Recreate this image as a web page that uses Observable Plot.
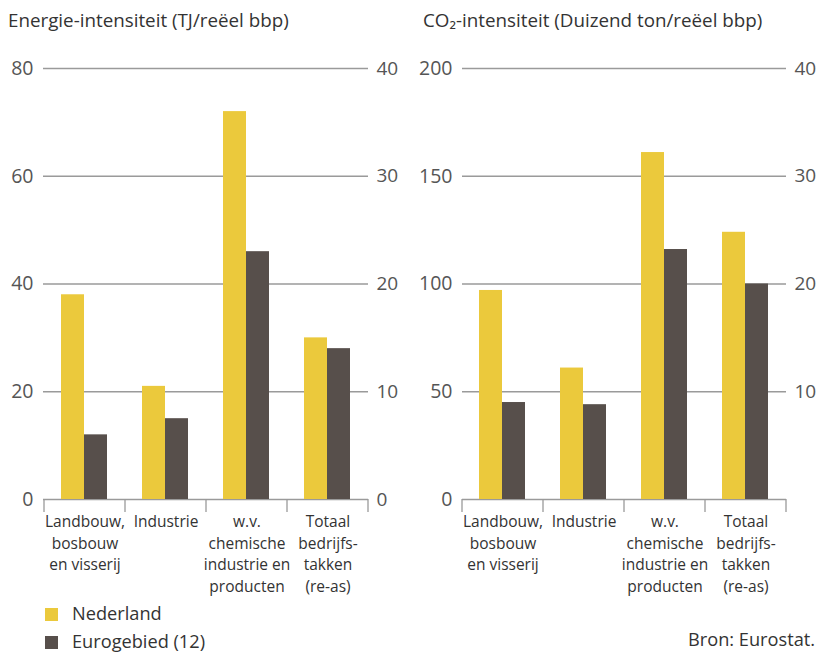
<!DOCTYPE html>
<html><head><meta charset="utf-8">
<script src="https://cdn.jsdelivr.net/npm/d3@7"></script>
<script src="https://cdn.jsdelivr.net/npm/@observablehq/plot@0.6"></script>
<style>
body{margin:0;background:#fff;font-family:"Open Sans",sans-serif;}
#root{position:relative;width:818px;height:652px;overflow:hidden;background:#fff;}
.title{position:absolute;top:7px;font-size:18.8px;color:#333;white-space:nowrap;}
.panel{position:absolute;top:40px;}
.leg{position:absolute;left:45px;font-size:18.2px;color:#333;white-space:nowrap;}
.sw{display:inline-block;width:13px;height:13px;margin-right:14px;vertical-align:-1px;}
.src{position:absolute;right:3px;top:627px;font-size:18.2px;color:#333;}
</style></head><body>
<div id="root">
  <div class="title" style="left:8px">Energie-intensiteit (TJ/reëel bbp)</div>
  <div class="title" style="left:423px">CO₂-intensiteit (Duizend ton/reëel bbp)</div>
  <div id="p1" class="panel" style="left:0px"></div>
  <div id="p2" class="panel" style="left:409px"></div>
  <div class="leg" style="top:601px"><span class="sw" id="sw1"></span>Nederland</div>
  <div class="leg" style="top:629px"><span class="sw" id="sw2"></span>Eurogebied (12)</div>
  <div class="src">Bron: Eurostat.</div>
</div>
<script>
const categories = ["Landbouw,\nbosbouw\nen visserij", "Industrie", "w.v.\nchemische\nindustrie en\nproducten", "Totaal\nbedrijfs-\ntakken\n(re-as)"];
const series = ["Nederland", "Eurogebied (12)"];
const energieNL = [38, 21, 72, 30];
const energieEU = [12, 15, 46, 28];
const co2NL = [97, 61, 161, 124];
const co2EU = [45, 44, 116, 100];
const energieTicks = [0, 20, 40, 60, 80];
const energieRightLabels = ["0", "10", "20", "30", "40"];
const co2Ticks = [0, 50, 100, 150, 200];
const co2RightLabels = ["", "10", "20", "30", "40"];

const YELLOW = "#ebc93c";
const DARK = "#574f4b";
document.getElementById("sw1").style.background = YELLOW;
document.getElementById("sw2").style.background = DARK;

function panel(nl, eu, ticks, rightLabels, ml, mr) {
  const rowsNL = categories.map((c, i) => ({cat: c, value: nl[i]}));
  const rowsEU = categories.map((c, i) => ({cat: c, value: eu[i]}));
  const plot = Plot.plot({
    width: 409, height: 560,
    marginTop: 28, marginBottom: 101, marginLeft: ml, marginRight: mr,
    x: {type: "band", domain: categories, padding: 0, axis: null},
    y: {domain: [0, d3.max(ticks)], axis: null},
    style: {fontFamily: "'Open Sans', sans-serif", color: "#555", background: "transparent", overflow: "visible"},
    marks: [
      Plot.ruleY(ticks, {stroke: "#9a9a9a", strokeWidth: 1.3}),
      Plot.barY(rowsNL, {x: "cat", y: "value", fill: YELLOW, insetLeft: 17, insetRight: 41}),
      Plot.barY(rowsEU, {x: "cat", y: "value", fill: DARK, insetLeft: 40, insetRight: 18}),
      Plot.axisY({ticks, anchor: "left", tickSize: 0, tickPadding: 10, fontSize: 19.5, label: null, fill: "#555"}),
      Plot.axisY({ticks, anchor: "right", tickSize: 0, tickPadding: 8, fontSize: 19, label: null, fill: "#555",
        tickFormat: d => rightLabels[ticks.indexOf(d)]}),
      Plot.text(categories, {x: d => d, text: d => d, frameAnchor: "bottom", lineAnchor: "top", dy: 12,
        lineHeight: 1.4, fontSize: 15.5, fill: "#333"})
    ]
  });
  // category separators with small downward ticks
  const xs = plot.scale("x");
  const y0 = plot.scale("y").apply(0);
  const bounds = categories.map(c => xs.apply(c));
  bounds.push(xs.apply(categories[categories.length - 1]) + xs.bandwidth);
  d3.select(plot).append("g").selectAll("line").data(bounds).join("line")
    .attr("x1", d => d).attr("x2", d => d)
    .attr("y1", y0).attr("y2", y0 + 13)
    .attr("stroke", "#9a9a9a").attr("stroke-width", 1.3);
  return plot;
}

document.getElementById("p1").appendChild(panel(energieNL, energieEU, energieTicks, energieRightLabels, 43, 41));
document.getElementById("p2").appendChild(panel(co2NL, co2EU, co2Ticks, co2RightLabels, 53, 32));
</script>
</body></html>
